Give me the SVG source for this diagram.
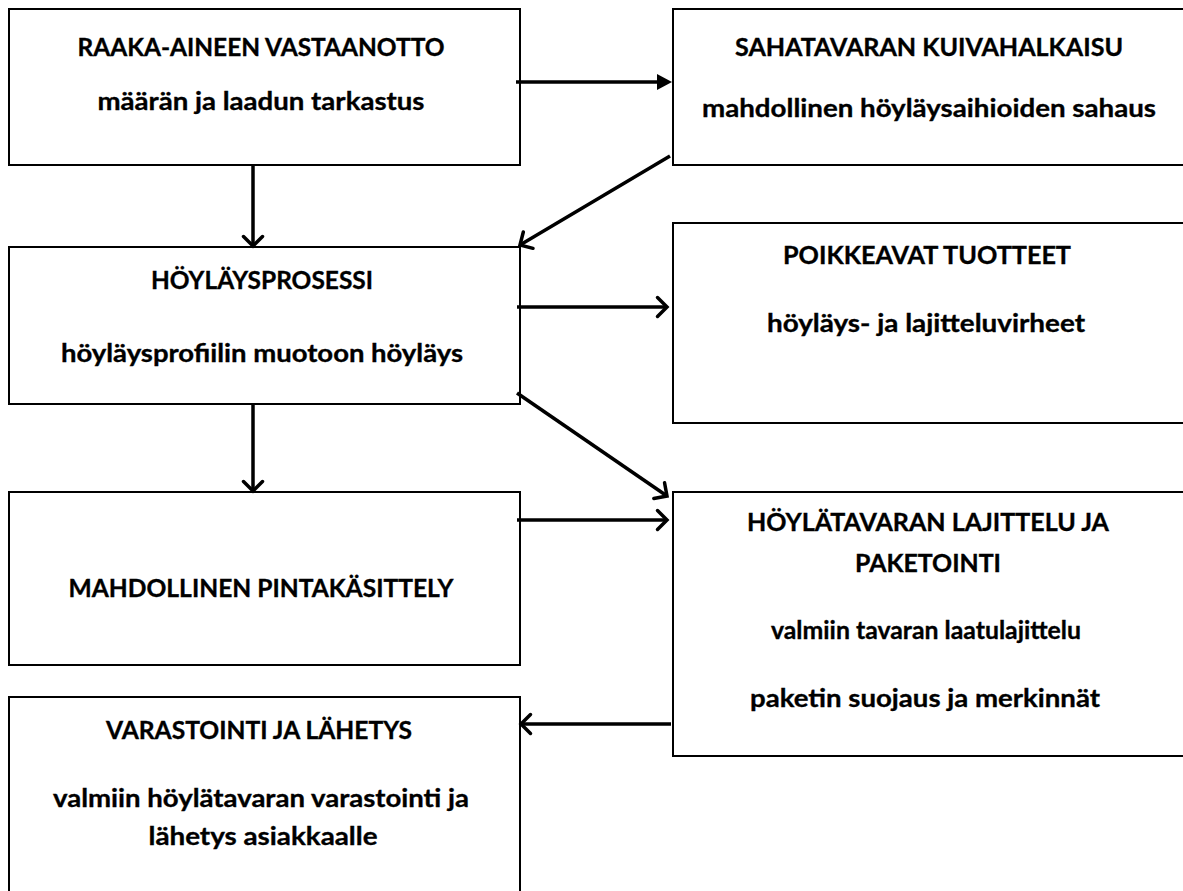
<svg xmlns="http://www.w3.org/2000/svg" width="1183" height="891" viewBox="0 0 1183 891">
<style>
.box{fill:#fff;stroke:#000;stroke-width:2}
.t{font-family:Lato,"Open Sans","Liberation Sans",sans-serif;font-weight:bold;font-size:25px;fill:#000;stroke:#000;stroke-width:0.35;text-anchor:middle}
.con{stroke:#000;stroke-width:3.5;fill:none}
</style>
<defs>
<marker id="open" markerUnits="userSpaceOnUse" viewBox="-14 -13 18 26" markerWidth="18" markerHeight="26" refX="0" refY="0" orient="auto">
<path d="M-9.5 -9.5 L0 0 L-9.5 9.5" fill="none" stroke="#000" stroke-width="3.5" stroke-linecap="round" stroke-linejoin="miter"/>
</marker>
<marker id="solid" markerUnits="userSpaceOnUse" viewBox="-2 -10 18 20" markerWidth="18" markerHeight="20" refX="0" refY="0" orient="auto">
<path d="M-1 -8 L14 0 L-1 8 Z" fill="#000"/>
</marker>
</defs>
<rect width="1183" height="891" fill="#fff"/>
<g id="n1"><rect class="box" x="9" y="9" width="511" height="156"/>
<text class="t" x="261" y="56" textLength="367" lengthAdjust="spacingAndGlyphs">RAAKA-AINEEN VASTAANOTTO</text>
<text class="t" x="261" y="110" textLength="327" lengthAdjust="spacingAndGlyphs">määrän ja laadun tarkastus</text></g>
<g id="n2"><rect class="box" x="673" y="9" width="512" height="156"/>
<text class="t" x="929" y="56" textLength="388" lengthAdjust="spacingAndGlyphs">SAHATAVARAN KUIVAHALKAISU</text>
<text class="t" x="929" y="117" textLength="454" lengthAdjust="spacingAndGlyphs">mahdollinen höyläysaihioiden sahaus</text></g>
<g id="n3"><rect class="box" x="9" y="247" width="511" height="157"/>
<text class="t" x="262" y="289" textLength="222" lengthAdjust="spacingAndGlyphs">HÖYLÄYSPROSESSI</text>
<text class="t" x="262" y="362" textLength="402" lengthAdjust="spacingAndGlyphs">höyläysprofiilin muotoon höyläys</text></g>
<g id="n4"><rect class="box" x="673" y="223" width="512" height="200"/>
<text class="t" x="927" y="264" textLength="288" lengthAdjust="spacingAndGlyphs">POIKKEAVAT TUOTTEET</text>
<text class="t" x="926" y="332" textLength="318" lengthAdjust="spacingAndGlyphs">höyläys- ja lajitteluvirheet</text></g>
<g id="n5"><rect class="box" x="9" y="492" width="511" height="173"/>
<text class="t" x="261" y="597" textLength="385" lengthAdjust="spacingAndGlyphs">MAHDOLLINEN PINTAKÄSITTELY</text></g>
<g id="n6"><rect class="box" x="673" y="492" width="512" height="264"/>
<text class="t" x="928" y="531" textLength="362" lengthAdjust="spacingAndGlyphs">HÖYLÄTAVARAN LAJITTELU JA</text>
<text class="t" x="928" y="572" textLength="146" lengthAdjust="spacingAndGlyphs">PAKETOINTI</text>
<text class="t" x="926" y="639" textLength="310" lengthAdjust="spacingAndGlyphs">valmiin tavaran laatulajittelu</text>
<text class="t" x="925" y="707" textLength="350" lengthAdjust="spacingAndGlyphs">paketin suojaus ja merkinnät</text></g>
<g id="n7"><rect class="box" x="9" y="697" width="511" height="200"/>
<text class="t" x="259" y="739" textLength="306" lengthAdjust="spacingAndGlyphs">VARASTOINTI JA LÄHETYS</text>
<text class="t" x="261" y="807" textLength="416" lengthAdjust="spacingAndGlyphs">valmiin höylätavaran varastointi ja</text>
<text class="t" x="263" y="845" textLength="229" lengthAdjust="spacingAndGlyphs">lähetys asiakkaalle</text></g>
<g id="connectors">
<line class="con" x1="516" y1="82" x2="658" y2="82" marker-end="url(#solid)"/>
<line class="con" x1="670" y1="156" x2="520" y2="245" marker-end="url(#open)"/>
<line class="con" x1="253" y1="165" x2="253" y2="246" marker-end="url(#open)"/>
<line class="con" x1="517" y1="307" x2="667" y2="307" marker-end="url(#open)"/>
<line class="con" x1="517" y1="393" x2="667" y2="496" marker-end="url(#open)"/>
<line class="con" x1="253" y1="404" x2="253" y2="491" marker-end="url(#open)"/>
<line class="con" x1="517" y1="520" x2="667" y2="520" marker-end="url(#open)"/>
<line class="con" x1="671" y1="724" x2="521" y2="724" marker-end="url(#open)"/>
</g>
</svg>
